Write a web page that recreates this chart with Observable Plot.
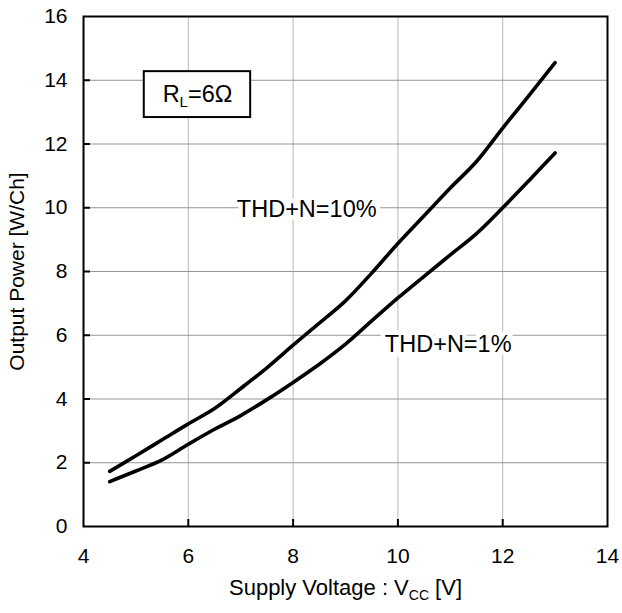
<!DOCTYPE html>
<html>
<head>
<meta charset="utf-8">
<script src="https://cdn.jsdelivr.net/npm/d3@7"></script>
<script src="https://cdn.jsdelivr.net/npm/@observablehq/plot@0.6"></script>
<style>
  html, body { margin: 0; padding: 0; background: #fff; }
  #chart { width: 622px; height: 613px; }
</style>
</head>
<body>
<div id="chart"></div>
<script>
// Supply voltage (V)
const vcc = [4.5, 5.0, 5.5, 6.0, 6.5, 7.0, 7.5, 8.0, 8.5, 9.0, 9.5, 10.0, 10.5, 11.0, 11.5, 12.0, 12.5, 13.0];
// Output power (W/Ch), THD+N = 10%
const thd10 = [1.73, 2.22, 2.72, 3.22, 3.70, 4.33, 4.98, 5.69, 6.38, 7.08, 7.95, 8.88, 9.75, 10.62, 11.45, 12.5, 13.52, 14.55];
// Output power (W/Ch), THD+N = 1%
const thd1 = [1.41, 1.74, 2.09, 2.58, 3.05, 3.48, 3.98, 4.52, 5.09, 5.72, 6.45, 7.17, 7.85, 8.52, 9.19, 10.0, 10.85, 11.72];

const xTicks = [4, 6, 8, 10, 12, 14];
const yTicks = [0, 2, 4, 6, 8, 10, 12, 14, 16];

const seriesLabels = [
  {x: 8.26, y: 9.95, text: "THD+N=10%"},
  {x: 10.96, y: 5.72, text: "THD+N=1%"}
];
const loadNote = [{x1: 5.16, x2: 7.19, y1: 12.83, y2: 14.27, text: "RL=6Ω"}];

const xLabel = "Supply Voltage : VCC [V]";
const yLabel = "Output Power [W/Ch]";

const rows10 = vcc.map((v, i) => ({v, p: thd10[i]}));
const rows1 = vcc.map((v, i) => ({v, p: thd1[i]}));

const FONT = "'Liberation Sans', Arial, sans-serif";

const chart = Plot.plot({
  width: 622,
  height: 613,
  marginLeft: 83,
  marginRight: 15,
  marginTop: 16,
  marginBottom: 87,
  style: {fontFamily: FONT, fontSize: "21px", color: "#000", background: "#fff"},
  x: {domain: [4, 14], ticks: xTicks},
  y: {domain: [0, 16], ticks: yTicks},
  marks: [
    Plot.gridX(xTicks, {stroke: "#b8b8b8", strokeOpacity: 1, strokeWidth: 1}),
    Plot.gridY(yTicks, {stroke: "#959595", strokeOpacity: 1, strokeWidth: 1}),
    Plot.axisX(xTicks, {tickSize: 0, tickPadding: 22, label: null, fontSize: 21}),
    Plot.axisY(yTicks, {tickSize: 0, tickPadding: 16, label: null, fontSize: 21}),
    Plot.tickX(xTicks.slice(1, -1), {x: d => d, insetTop: 503, stroke: "#000", strokeWidth: 2}),
    Plot.tickY(yTicks.slice(1, -1), {y: d => d, insetRight: 517, stroke: "#000", strokeWidth: 2}),
    Plot.line(rows10, {x: "v", y: "p", stroke: "#000", strokeWidth: 3.6, strokeLinecap: "round", curve: "catmull-rom"}),
    Plot.line(rows1, {x: "v", y: "p", stroke: "#000", strokeWidth: 3.6, strokeLinecap: "round", curve: "catmull-rom"}),
    Plot.text(seriesLabels, {x: "x", y: "y", text: "text", fontSize: 23.5, fill: "#000", stroke: "#fff", strokeWidth: 9, strokeLinejoin: "miter"}),
    Plot.rect(loadNote, {x1: "x1", x2: "x2", y1: "y1", y2: "y2", fill: "#fff", stroke: "#000", strokeWidth: 2}),
    Plot.text(loadNote, {x: d => (d.x1 + d.x2) / 2, y: d => (d.y1 + d.y2) / 2, text: "text", fontSize: 23.5, fill: "#000"}),
    Plot.frame({stroke: "#000", strokeWidth: 2}),
    Plot.text([xLabel], {frameAnchor: "bottom", dy: 68, text: d => d, fontSize: 22, fill: "#000"}),
    Plot.text([yLabel], {frameAnchor: "left", text: d => d, fontSize: 21, fill: "#000"})
  ]
});

document.getElementById("chart").appendChild(chart);

const yScale = chart.scale("y");
const midY = (yScale.range[0] + yScale.range[1]) / 2;

d3.select(chart).selectAll("text").each(function () {
  const t = d3.select(this);
  const s = this.textContent;
  if (s === "RL=6Ω") {
    t.text(null);
    t.append("tspan").text("R");
    t.append("tspan").attr("font-size", "15px").attr("dy", "5").text("L");
    t.append("tspan").attr("dy", "-5").text("=6Ω");
  } else if (s === xLabel) {
    t.text(null);
    t.append("tspan").text("Supply Voltage : V");
    t.append("tspan").attr("font-size", "14px").attr("dy", "5").text("CC");
    t.append("tspan").attr("dy", "-5").text(" [V]");
  } else if (s === yLabel) {
    t.attr("x", null).attr("y", null).attr("dx", null).attr("dy", null)
      .attr("text-anchor", "middle")
      .attr("dominant-baseline", "central")
      .attr("transform", `translate(16,${midY}) rotate(-90)`);
  }
});
</script>
</body>
</html>
